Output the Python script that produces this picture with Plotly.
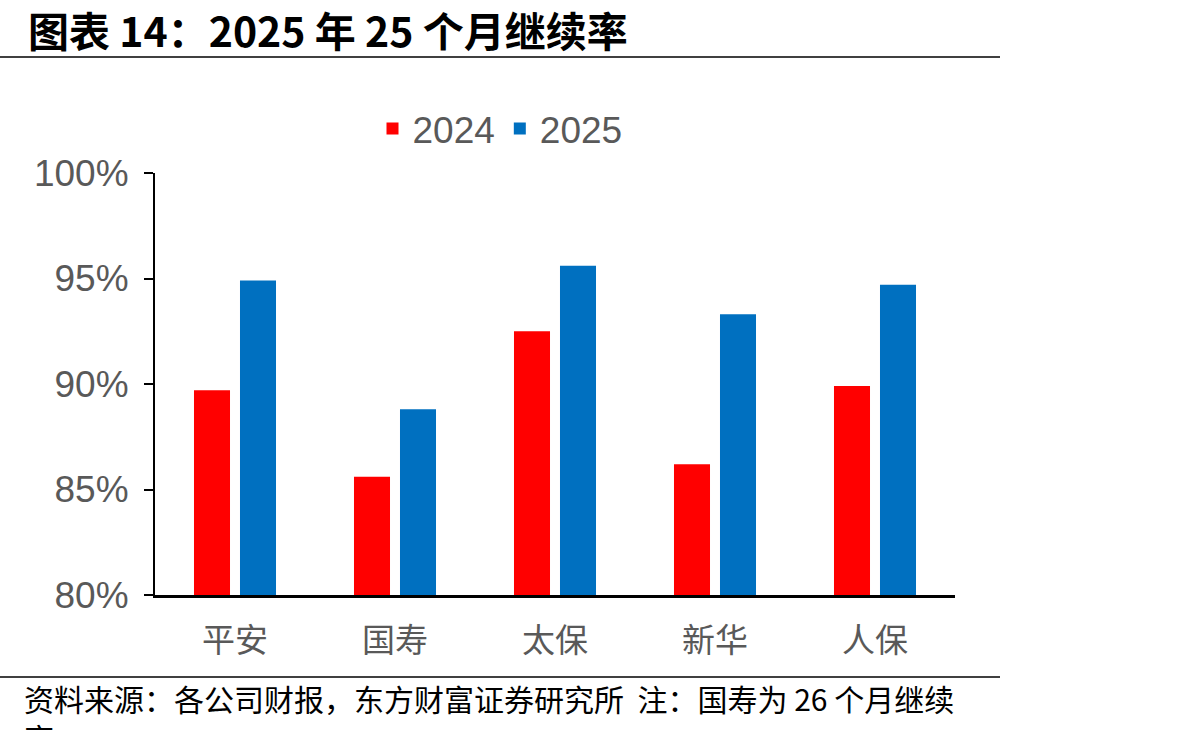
import plotly.graph_objects as go

categories = ["平安", "国寿", "太保", "新华", "人保"]
v2024 = [89.7, 85.6, 92.5, 86.2, 89.9]
v2025 = [94.9, 88.8, 95.6, 93.3, 94.7]
ytick_vals = [80, 85, 90, 95, 100]
ytick_text = ["80%", "85%", "90%", "95%", "100%"]

FONT = "Liberation Sans, Noto Sans CJK SC, sans-serif"
CJK = "Noto Sans CJK SC, sans-serif"
GRAY = "#595959"

W = 800.0
H = 422.0
L = 155.0
T = 173.0

def px(x):
    return (x - L) / W

def py(y):
    return 1 - (y - T) / H

fig = go.Figure()
fig.add_trace(go.Bar(x=categories, y=v2024, name="2024", marker_color="#FF0000",
                     marker_line_width=0))
fig.add_trace(go.Bar(x=categories, y=v2025, name="2025", marker_color="#0070C0",
                     marker_line_width=0))

fig.update_layout(
    width=1192, height=730,
    margin=dict(l=155, r=237, t=173, b=135),
    plot_bgcolor="white", paper_bgcolor="white",
    barmode="group", bargap=0.425, bargroupgap=0.217,
    font=dict(family=FONT, color=GRAY),
    showlegend=True,
    legend=dict(orientation="h", x=px(500), y=py(129), xanchor="center", yanchor="middle",
                font=dict(size=37, color=GRAY, family=FONT), itemwidth=30,
                traceorder="normal"),
    xaxis=dict(showline=True, linecolor="black", linewidth=3, ticks="",
               tickfont=dict(size=33, color=GRAY, family=CJK), showgrid=False,
               ticklabelstandoff=14),
    yaxis=dict(range=[80, 100], tickvals=ytick_vals, ticktext=ytick_text,
               showline=True, linecolor="black", linewidth=2, ticks="outside",
               ticklen=9, tickwidth=2, tickcolor="black", showgrid=False,
               zeroline=False, tickfont=dict(size=37, color=GRAY, family=FONT),
               ticklabelstandoff=8),
)

fig.add_annotation(text="<b>图表 14：2025 年 25 个月继续率</b>", xref="paper", yref="paper",
                   x=px(26), y=py(29), xanchor="left", yanchor="middle",
                   showarrow=False, font=dict(size=41, color="black", family=CJK))
fig.add_annotation(text="资料来源：各公司财报，东方财富证券研究所  注：国寿为 26 个月继续",
                   xref="paper", yref="paper", align="left",
                   x=px(23), y=py(698), xanchor="left", yanchor="middle",
                   showarrow=False, borderpad=0,
                   font=dict(size=30, color="black", family=CJK))
fig.add_annotation(text="率",
                   xref="paper", yref="paper", align="left",
                   x=px(23), y=py(714), xanchor="left", yanchor="top",
                   showarrow=False, borderpad=0,
                   font=dict(size=30, color="black", family=CJK))

# separator lines
fig.add_shape(type="line", xref="paper", yref="paper",
              x0=px(0), x1=px(1000), y0=py(57), y1=py(57),
              line=dict(color="black", width=1.5))
fig.add_shape(type="line", xref="paper", yref="paper",
              x0=px(0), x1=px(1000), y0=py(677), y1=py(677),
              line=dict(color="black", width=1.5))

fig.write_html("out.html")
